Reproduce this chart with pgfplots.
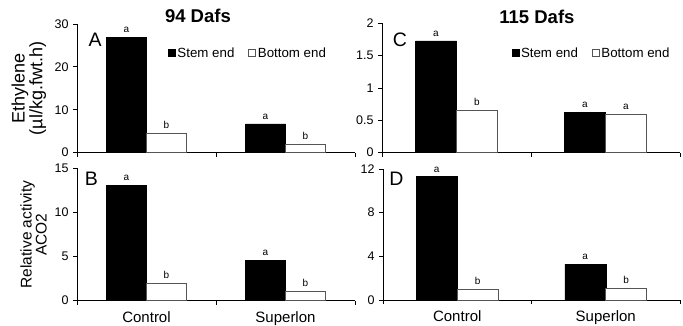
\documentclass[border=0pt]{standalone}
\usepackage{fontspec}
\setmainfont{Liberation Sans}
\usepackage{pgfplots}
\pgfplotsset{compat=1.18}
\definecolor{outl}{HTML}{555555}
\pgfplotsset{
  base/.style={
    scale only axis, anchor=south west,
    /pgf/number format/assume math mode=true,
    axis x line*=bottom, axis y line*=left,
    axis line style={-, black, line width=0.8pt},
    tick align=outside, major tick length=4pt,
    tick style={black, line width=0.8pt},
    ybar=0pt,
    xmin=-0.5, xmax=1.5, ymin=0,
    xtick={-0.5,0.5,1.5}, xticklabels={},
    yticklabel style={font=\fontsize{12.5}{12.5}\selectfont, xshift=-1pt},
    nodes near coords={\pgfplotspointmeta},
    point meta=explicit symbolic,
    nodes near coords style={font=\fontsize{10}{10}\selectfont, anchor=south, yshift=1pt},
    every axis y label/.style={rotate=90, anchor=center, align=center},
    clip=false,
  },
  stem/.style={fill=black, draw=black},
  bot/.style={fill=white, draw=outl, line width=0.6pt},
  catlabels/.style={
    extra x ticks={0,1}, extra x tick labels={Control,Superlon},
    extra x tick style={major tick length=0pt, tick label style={font=\fontsize{15}{15}\selectfont, yshift=-7pt}},
  },
  leg/.style={
    legend style={draw=none, fill=none, at={#1}, anchor=center, font=\fontsize{13.3}{13.3}\selectfont,
      /tikz/every even column/.append style={column sep=12pt}, inner sep=0pt},
    legend columns=2,
    legend image code/.code={\draw[##1, line width=0.5pt] (0pt,-3.5pt) rectangle (7pt,3.5pt);},
  },
}
\begin{document}
\begin{tikzpicture}
% Panel A
\begin{axis}[base, at={(77pt,173.3pt)}, width=278pt, height=128.7pt,
  ymax=30, ytick={0,10,20,30}, bar width=40pt,
  ylabel={\fontsize{18}{22}\selectfont Ethylene\\\fontsize{18}{22}\selectfont (µl/kg.fwt.h)},
  ylabel style={at={(axis description cs:-0.173,0.5)}},
  leg={(axis description cs:0.615,0.775)}]
\addplot[stem] coordinates {(0,26.9) [a] (1,6.7) [a]};
\addplot[bot] coordinates {(0,4.5) [b] (1,2.0) [b]};
\legend{Stem end, Bottom end}
\node[font=\fontsize{19.5}{19.5}\selectfont] at (axis description cs:0.065,0.876) {A};
\node[font=\bfseries\fontsize{18.5}{18.5}\selectfont, anchor=base] at (axis description cs:0.435,1.008) {94 Dafs};
\end{axis}
% Panel B
\begin{axis}[base, catlabels, at={(77pt,25.3pt)}, width=278pt, height=132.4pt,
  ymax=15, ytick={0,5,10,15}, bar width=40pt,
  ylabel={\fontsize{15.5}{19}\selectfont Relative activity\\\fontsize{15.5}{19}\selectfont ACO2},
  ylabel style={at={(axis description cs:-0.156,0.5)}}]
\addplot[stem] coordinates {(0,13.1) [a] (1,4.6) [a]};
\addplot[bot] coordinates {(0,1.95) [b] (1,1.05) [b]};
\node[font=\fontsize{19.5}{19.5}\selectfont] at (axis description cs:0.052,0.923) {B};
\end{axis}
% Panel C
\begin{axis}[base, at={(382pt,173.3pt)}, width=298pt, height=129.4pt,
  ymax=2, ytick={0,0.5,1,1.5,2}, bar width=41pt,
  leg={(axis description cs:0.703,0.77)}]
\addplot[stem] coordinates {(0,1.73) [a] (1,0.62) [a]};
\addplot[bot] coordinates {(0,0.65) [b] (1,0.59) [a]};
\legend{Stem end, Bottom end}
\node[font=\fontsize{19.5}{19.5}\selectfont] at (axis description cs:0.06,0.871) {C};
\node[font=\bfseries\fontsize{18.5}{18.5}\selectfont, anchor=base] at (axis description cs:0.52,1.002) {115 Dafs};
\end{axis}
% Panel D
\begin{axis}[base, catlabels, at={(383pt,26pt)}, width=297pt, height=131pt,
  ymax=12, ytick={0,4,8,12}, bar width=41pt]
\addplot[stem] coordinates {(0,11.3) [a] (1,3.27) [a]};
\addplot[bot] coordinates {(0,0.98) [b] (1,1.05) [b]};
\node[font=\fontsize{19.5}{19.5}\selectfont] at (axis description cs:0.045,0.927) {D};
\end{axis}
\pgfresetboundingbox
\useasboundingbox (0,0) rectangle (683pt,326pt);
\end{tikzpicture}
\end{document}
